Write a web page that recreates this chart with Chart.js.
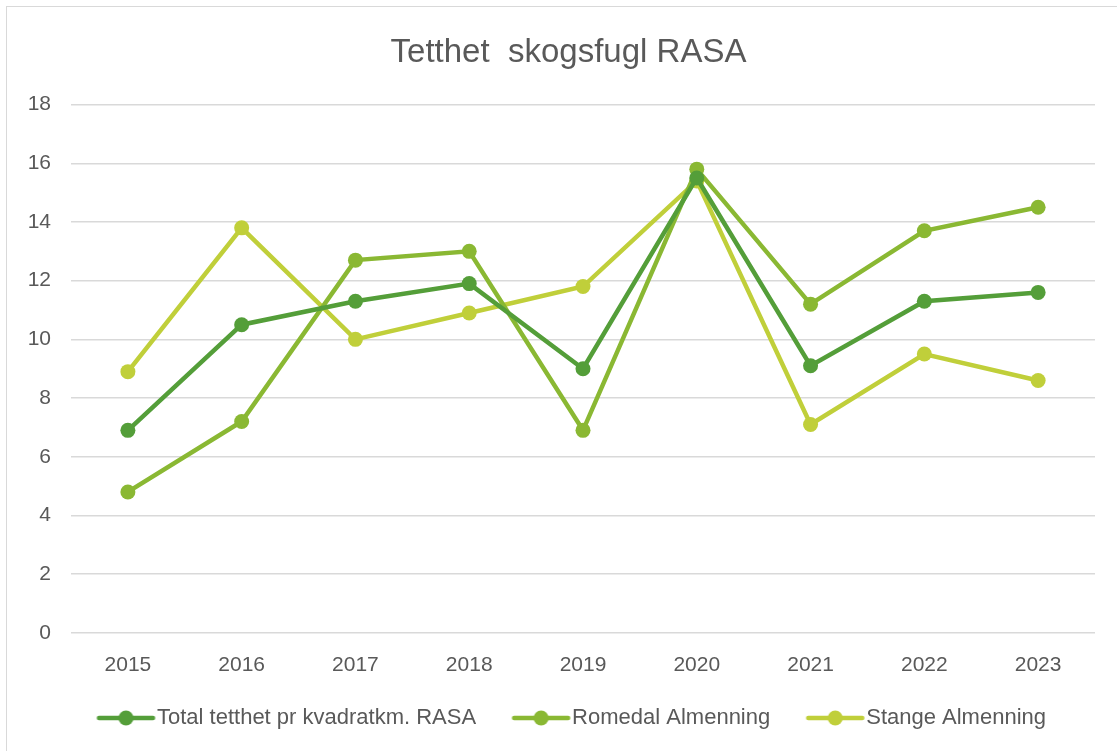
<!DOCTYPE html>
<html>
<head>
<meta charset="utf-8">
<script src="https://cdn.jsdelivr.net/npm/chart.js@4"></script>
<style>
    html, body { margin: 0; padding: 0; background: #fff; }
    body { width: 1117px; height: 751px; overflow: hidden; position: relative; }
    #frame { position: absolute; left: 6px; top: 6px; width: 1130px; height: 770px; border: 1.5px solid #d9d9d9; }
    #wrap { position: absolute; left: 0; top: 0; width: 1117px; height: 751px; }
</style>
</head>
<body>
<div id="frame"></div>
<div id="wrap"><canvas id="chart"></canvas></div>
<script>
// år
const years = ["2015", "2016", "2017", "2018", "2019", "2020", "2021", "2022", "2023"];

const totalRasa = [6.9, 10.5, 11.3, 11.9, 9.0, 15.5, 9.1, 11.3, 11.6];
const romedal = [4.8, 7.2, 12.7, 13.0, 6.9, 15.8, 11.2, 13.7, 14.5];
const stange = [8.9, 13.8, 10.0, 10.9, 11.8, 15.4, 7.1, 9.5, 8.6];

const seriesNames = ["Total tetthet pr kvadratkm. RASA", "Romedal Almenning", "Stange Almenning"];
const seriesColors = ["#549E39", "#8AB833", "#C0CF3A"];

const textColor = "#595959";
const fontFamily = "'Liberation Sans', Arial, sans-serif";
const tickFont = { family: fontFamily, size: 21 };

// legendikon: linje med prikk, med litt tom plass foran
const ICON_W = 90;
const makeIcon = (color) => {
    const c = document.createElement("canvas");
    c.width = ICON_W;
    c.height = 18;
    const g = c.getContext("2d");
    const x0 = 28.5, x1 = 86.5;
    g.strokeStyle = color;
    g.lineWidth = 4.5;
    g.lineCap = "round";
    g.beginPath();
    g.moveTo(x0 + 2, 9);
    g.lineTo(x1 - 2, 9);
    g.stroke();
    g.fillStyle = color;
    g.beginPath();
    g.arc((x0 + x1) / 2, 9, 7.5, 0, Math.PI * 2);
    g.fill();
    return c;
};

const makeDataset = (label, data, color) => ({
    label: label,
    data: data,
    borderColor: color,
    backgroundColor: color,
    borderWidth: 4.5,
    pointRadius: 7.5,
    pointHoverRadius: 7.5,
    pointBorderWidth: 0,
    pointBackgroundColor: color,
    tension: 0,
});

// Excel sentrerer tittel og legende på hele rammen, ikke bare plottet
const boxShift = {
    id: "boxShift",
    afterLayout(chart) {
        const lg = chart.legend;
        lg.left += 12;
        lg.right += 12;
        lg.top -= 11;
        lg.bottom -= 11;
        const t = chart.titleBlock;
        t.left += 17;
        t.right += 17;
    },
};

new Chart(document.getElementById("chart"), {
    type: "line",
    plugins: [boxShift],
    data: {
        labels: years,
        datasets: [
            makeDataset(seriesNames[0], totalRasa, seriesColors[0]),
            makeDataset(seriesNames[1], romedal, seriesColors[1]),
            makeDataset(seriesNames[2], stange, seriesColors[2]),
        ],
    },
    options: {
        responsive: true,
        maintainAspectRatio: false,
        animation: false,
        layout: { padding: { left: 8, right: 22, top: 0, bottom: 1 } },
        plugins: {
            tooltip: { enabled: false },
            title: {
                display: true,
                text: "Tetthet  skogsfugl RASA",
                color: textColor,
                font: { family: fontFamily, size: 33, weight: "normal" },
                padding: { top: 33, bottom: 32 },
            },
            legend: {
                position: "bottom",
                labels: {
                    color: textColor,
                    font: { family: fontFamily, size: 22 },
                    usePointStyle: true,
                    pointStyleWidth: 65,
                    padding: 20,
                    generateLabels: (chart) => chart.data.datasets.map((ds, i) => ({
                        text: ds.label,
                        pointStyle: makeIcon(ds.borderColor),
                        fontColor: textColor,
                        lineWidth: 0,
                        strokeStyle: "transparent",
                        fillStyle: ds.borderColor,
                        datasetIndex: i,
                    })),
                },
            },
        },
        scales: {
            x: {
                offset: true,
                grid: { display: false, drawTicks: false },
                border: { display: false },
                ticks: { color: textColor, font: tickFont, padding: 20 },
            },
            y: {
                min: 0,
                max: 18,
                afterFit: (s) => { s.width = 63; },
                grid: { color: "#d9d9d9", lineWidth: 1.5, drawTicks: false },
                border: { display: false },
                ticks: { stepSize: 2, color: textColor, font: tickFont, padding: 20 },
            },
        },
    },
});
</script>
</body>
</html>
